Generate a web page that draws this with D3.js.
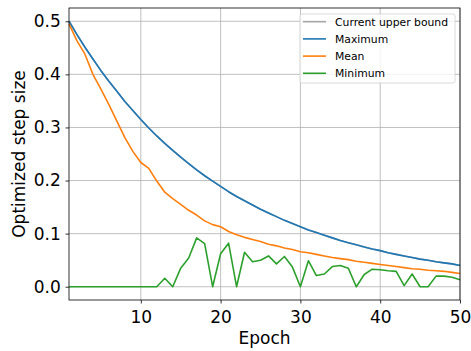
<!DOCTYPE html>
<html><head><meta charset="utf-8">
<script src="https://cdn.jsdelivr.net/npm/d3@7"></script>
<style>body{margin:0;background:#fff}svg{display:block}text{font-family:"DejaVu Sans",sans-serif;fill:#000}</style>
</head><body><svg id="c" width="471" height="351"></svg>
<script>
const epochs = d3.range(1, 51);
const upperBound = [0.500,0.475,0.451,0.429,0.407,0.387,0.368,0.349,0.332,0.315,0.299,0.284,0.270,0.257,0.244,0.232,0.220,0.209,0.199,0.189,0.179,0.170,0.162,0.154,0.146,0.139,0.132,0.125,0.119,0.113,0.107,0.102,0.097,0.092,0.087,0.083,0.079,0.075,0.071,0.068,0.064,0.061,0.058,0.055,0.052,0.050,0.047,0.045,0.043,0.040];
const maximum = [0.500,0.475,0.451,0.429,0.407,0.387,0.368,0.349,0.332,0.315,0.299,0.284,0.270,0.257,0.244,0.232,0.220,0.209,0.199,0.189,0.179,0.170,0.162,0.154,0.146,0.139,0.132,0.125,0.119,0.113,0.107,0.102,0.097,0.092,0.087,0.083,0.079,0.075,0.071,0.068,0.064,0.061,0.058,0.055,0.052,0.050,0.047,0.045,0.043,0.040];
const mean = [0.495,0.463,0.438,0.400,0.372,0.343,0.312,0.281,0.255,0.234,0.223,0.199,0.178,0.166,0.155,0.144,0.135,0.124,0.117,0.113,0.104,0.098,0.093,0.089,0.085,0.080,0.077,0.073,0.070,0.066,0.064,0.061,0.058,0.055,0.053,0.051,0.048,0.046,0.044,0.042,0.040,0.038,0.036,0.034,0.033,0.031,0.030,0.029,0.027,0.025];
const minimum = [0,0,0,0,0,0,0,0,0,0,0,0,0.016,0,0.035,0.054,0.092,0.081,0,0.062,0.082,0,0.065,0.047,0.050,0.058,0.043,0.057,0.037,0,0.049,0.021,0.024,0.038,0.040,0.035,0,0.023,0.033,0.032,0.030,0.029,0.002,0.024,0,0,0.020,0.020,0.018,0.013];
const xTicks = [10,20,30,40,50];
const yTicks = [0.0,0.1,0.2,0.3,0.4,0.5];
const seriesNames = ["Current upper bound","Maximum","Mean","Minimum"];
const seriesColors = ["#a6a6a6","#1f77b4","#ff7f0e","#2ca02c"];
const seriesData = [upperBound, maximum, mean, minimum];

const L=69, R=460, T=8, B=300;
const svg = d3.select("#c");
const x = d3.scaleLinear().domain([1,50]).range([L,R]);
const y = d3.scaleLinear().domain([-0.025,0.525]).range([B,T]);

// grid
svg.append("g").selectAll("line").data(xTicks).join("line")
  .attr("x1",d=>x(d)).attr("x2",d=>x(d)).attr("y1",T).attr("y2",B)
  .attr("stroke","#b0b0b0").attr("stroke-width",0.8);
svg.append("g").selectAll("line").data(yTicks).join("line")
  .attr("x1",L).attr("x2",R).attr("y1",d=>y(d)).attr("y2",d=>y(d))
  .attr("stroke","#b0b0b0").attr("stroke-width",0.8);

const line = d3.line().x((d,i)=>x(epochs[i])).y(d=>y(d));
seriesData.forEach((s,k)=>{
  svg.append("path").attr("d",line(s)).attr("fill","none")
    .attr("stroke",seriesColors[k]).attr("stroke-width",1.6).attr("stroke-linejoin","round");
});

// axes
const xa = svg.append("g").attr("transform",`translate(0,${B})`)
  .call(d3.axisBottom(x).tickValues(xTicks).tickSize(3.5).tickPadding(7).tickFormat(d3.format("d")));
const ya = svg.append("g").attr("transform",`translate(${L},0)`)
  .call(d3.axisLeft(y).tickValues(yTicks).tickSize(3.5).tickPadding(4.8).tickFormat(d3.format(".1f")));
[xa,ya].forEach(a=>{a.select(".domain").remove();
  a.selectAll("text").attr("font-size",17).attr("font-family","DejaVu Sans");
  a.selectAll("line").attr("stroke","#000").attr("stroke-width",0.8);});
svg.append("rect").attr("x",L).attr("y",T).attr("width",R-L).attr("height",B-T)
  .attr("fill","none").attr("stroke","#000").attr("stroke-width",0.8);

svg.append("text").attr("x",(L+R)/2).attr("y",344).attr("text-anchor","middle")
  .attr("font-size",17).text("Epoch");
svg.append("text").attr("transform",`translate(24.5,${(T+B)/2}) rotate(-90)`)
  .attr("text-anchor","middle").attr("font-size",17).text("Optimized step size");

// legend
const lg = svg.append("g");
lg.append("rect").attr("x",300).attr("y",14).attr("width",155).attr("height",69).attr("rx",2)
  .attr("fill","#fff").attr("fill-opacity",0.8).attr("stroke","#d0d0d0").attr("stroke-width",0.8);
seriesNames.forEach((n,i)=>{
  const yy = 21.7 + i*17.2;
  lg.append("line").attr("x1",303).attr("x2",326).attr("y1",yy).attr("y2",yy)
    .attr("stroke",seriesColors[i]).attr("stroke-width",1.6);
  lg.append("text").attr("x",335).attr("y",yy+4).attr("font-size",10.8).text(n);
});
</script></body></html>
